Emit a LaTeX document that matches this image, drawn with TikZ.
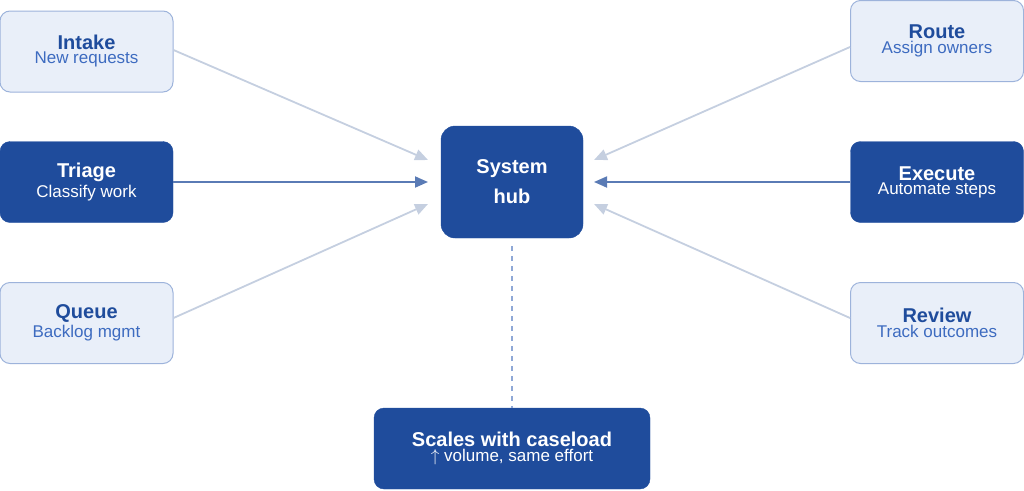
\documentclass[tikz,border=0pt]{standalone}
\usepackage{fontspec}
\setmainfont{Liberation Sans}
\usetikzlibrary{arrows.meta}
\definecolor{dk}{HTML}{1F4C9C}
\definecolor{lt}{HTML}{E9EFF9}
\definecolor{ltb}{HTML}{9DB3DB}
\definecolor{sub}{HTML}{3D6BC0}
\definecolor{lac}{HTML}{C5CFE0}
\definecolor{dac}{HTML}{5A7BB5}
\definecolor{dashc}{HTML}{8FA8D6}
\begin{document}
\begin{tikzpicture}[x=1pt,y=-1pt,
 box/.style={rounded corners=10pt,minimum width=173pt,minimum height=81pt,align=center,inner sep=2pt},
 light/.style={box,fill=lt,draw=ltb,line width=1pt},
 dark/.style={box,fill=dk,draw=dk,text=white},
 larr/.style={draw=lac,line width=1.8pt,-{Triangle[length=13pt,width=11pt]}},
 darr/.style={draw=dac,line width=1.8pt,-{Triangle[length=13pt,width=11pt]}}]
\useasboundingbox (0,0) rectangle (1024,490);
\node[light] (intake) at (86.5,51.5) {\textcolor{dk}{\fontsize{20}{24}\selectfont\bfseries Intake}\\[2pt]\textcolor{sub}{\fontsize{17}{21}\selectfont New requests}};
\node[dark] (triage) at (86.5,182) {\fontsize{20}{24}\selectfont\bfseries Triage\\[2pt]\fontsize{17}{21}\selectfont\mdseries Classify work};
\node[light] (queue) at (86.5,323) {\textcolor{dk}{\fontsize{20}{24}\selectfont\bfseries Queue}\\[2pt]\textcolor{sub}{\fontsize{17}{21}\selectfont Backlog mgmt}};
\node[light] (route) at (937,41) {\textcolor{dk}{\fontsize{20}{24}\selectfont\bfseries Route}\\[2pt]\textcolor{sub}{\fontsize{17}{21}\selectfont Assign owners}};
\node[dark] (exec) at (937,182) {\fontsize{20}{24}\selectfont\bfseries Execute\\[2pt]\fontsize{17}{21}\selectfont\mdseries Automate steps};
\node[light] (review) at (937,323) {\textcolor{dk}{\fontsize{20}{24}\selectfont\bfseries Review}\\[2pt]\textcolor{sub}{\fontsize{17}{21}\selectfont Track outcomes}};
\node[dark,minimum width=142pt,minimum height=112pt,rounded corners=14pt,font=\fontsize{20}{30}\selectfont\bfseries] (hub) at (512,182) {System\\hub};
\node[dark,minimum width=276pt] (scale) at (512,448.5) {\fontsize{20}{24}\selectfont\bfseries Scales with caseload\\[2pt]\fontsize{17}{21}\selectfont\mdseries $\uparrow$ volume, same effort};
\coordinate (h1) at (428,160); \coordinate (h2) at (428,182); \coordinate (h3) at (428,204);
\coordinate (h4) at (594,160); \coordinate (h5) at (594,182); \coordinate (h6) at (594,204);
\coordinate (d1) at (512,246);
\draw[larr] (intake.east |- 0,50) -- (h1);
\draw[darr] (triage.east) -- (h2);
\draw[larr] (queue.east |- 0,318) -- (h3);
\draw[larr] (route.west |- 0,47) -- (h4);
\draw[darr] (exec.west) -- (h5);
\draw[larr] (review.west |- 0,318) -- (h6);
\draw[draw=dashc,line width=1.5pt,dash pattern=on 5pt off 5pt] (d1) -- (scale.north);
\end{tikzpicture}
\end{document}
